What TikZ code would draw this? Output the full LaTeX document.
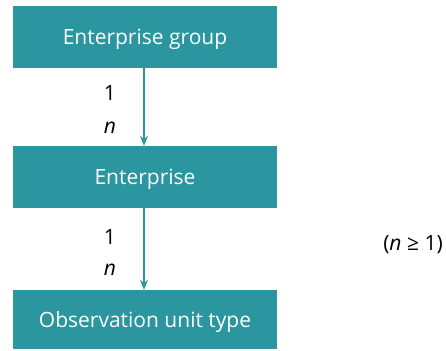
\documentclass[tikz,border=0pt]{standalone}
\usepackage{fontspec}
\setmainfont{Open Sans}
\usetikzlibrary{arrows.meta,positioning}
\definecolor{unitteal}{RGB}{43,149,160}

\begin{document}
\begin{tikzpicture}[x=1pt,y=-1pt,
                unitbox/.style={fill=unitteal, text=white, minimum width=264pt, inner sep=0pt, text depth=0pt, font=\fontsize{21}{24}\selectfont},
                cardlabel/.style={inner sep=0pt, font=\fontsize{21}{24}\selectfont},
                link/.style={unitteal, line width=1.2pt, -{Stealth[length=10pt,width=8pt]}}]
                \useasboundingbox (0,0) rectangle (446,350);
                \node [unitbox, minimum height=62pt] (group) at (145,37) {Enterprise group};
                \node [unitbox, minimum height=62pt] (enterprise) at (145,177) {Enterprise};
                \node [unitbox, minimum height=59pt] (obsunit) at (145,319.5) {Observation unit type};
                \draw [link] (group.south -| 144,0) -- (enterprise.north -| 144,0);
                \draw [link] ([yshift=4pt]enterprise.south -| 144,0) -- (obsunit.north -| 144,0);
                \node [cardlabel] (one1) at (110,93) {1};
                \node [cardlabel] (n1) at (110,128) {\itshape n};
                \node [cardlabel] (one2) at (110,237) {1};
                \node [cardlabel] (n2) at (110,270) {\itshape n};
                \node [cardlabel] (cond) at (413,245) {(\textit{n} ≥ 1)};
            \end{tikzpicture}
\end{document}
